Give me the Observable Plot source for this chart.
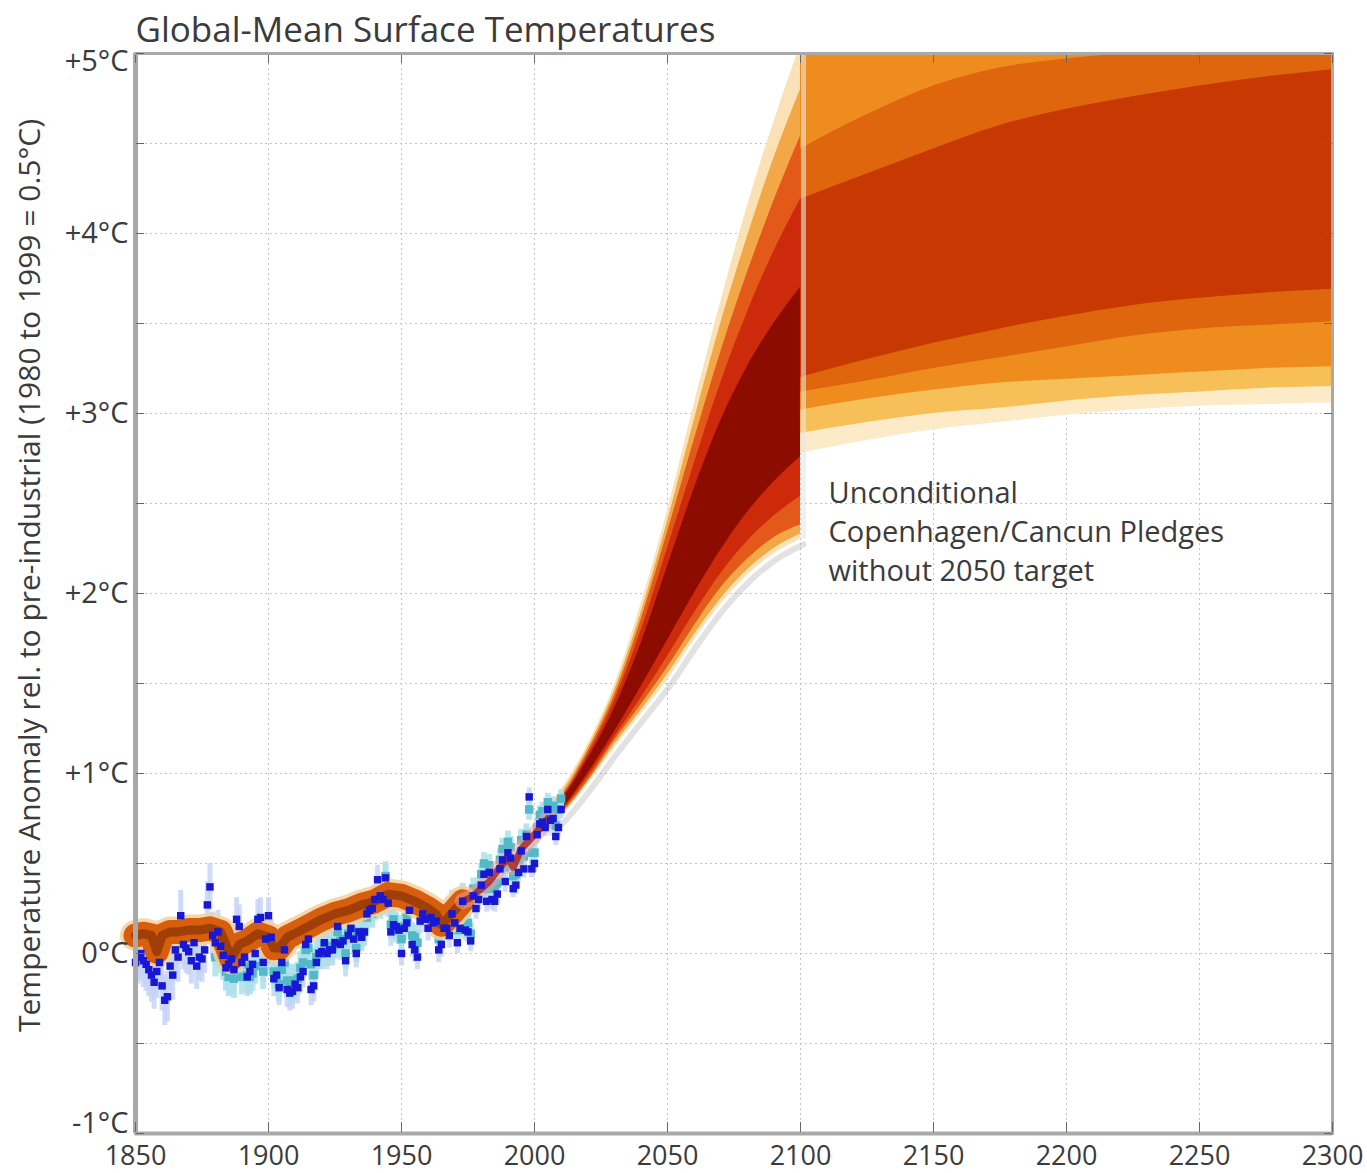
<!DOCTYPE html>
<html><head><meta charset="utf-8">
<script src="https://cdn.jsdelivr.net/npm/d3@7"></script>
<script src="https://cdn.jsdelivr.net/npm/@observablehq/plot@0.6"></script>
<style>
html,body{margin:0;padding:0;background:#fff;}
#chart{width:1367px;height:1173px;overflow:hidden;}
</style></head><body><div id="chart"></div>
<script>
// ---------- texts & ticks ----------
const title = "Global-Mean Surface Temperatures";
const yLabel = "Temperature Anomaly rel. to pre-industrial (1980 to 1999 = 0.5°C)";
const annotationLines = ["Unconditional", "Copenhagen/Cancun Pledges", "without 2050 target"];
const xDomain = [1850, 2300];
const yDomain = [-1, 5];
const xTicks = [1850, 1900, 1950, 2000, 2050, 2100, 2150, 2200, 2250, 2300];
const xGrid = [1900, 1950, 2000, 2050, 2100, 2150, 2200, 2250];
const yTicksMid = [0, 1, 2, 3, 4];
const yTickBottom = [-1];
const yTickTop = [5];
const yMinor = [-1, -0.5, 0, 0.5, 1, 1.5, 2, 2.5, 3, 3.5, 4, 4.5, 5];

// ---------- observations (annual, 1850-2010) ----------
const obsStart = 1850;
const obsBlue = [
 -0.05,-0.02,0.00,-0.04,-0.06,-0.09,-0.12,-0.16,-0.10,-0.05,
 -0.18,-0.26,-0.24,-0.07,-0.12,0.02,-0.02,0.21,0.05,0.03,
 0.01,-0.04,0.06,-0.07,-0.02,-0.03,0.02,0.27,0.37,0.10,
 0.06,0.12,0.04,-0.01,-0.08,-0.06,-0.03,-0.09,0.19,0.15,
 -0.05,-0.02,-0.13,-0.10,-0.06,0.00,0.19,0.20,-0.05,0.08,
 0.21,0.09,-0.14,-0.12,-0.19,-0.05,0.02,-0.20,-0.22,-0.21,
 -0.17,-0.19,-0.13,-0.10,0.05,0.08,-0.20,-0.18,-0.05,0.00,
 0.01,0.06,0.00,0.02,0.02,0.06,0.15,0.05,0.07,-0.04,
 0.10,0.14,0.08,0.00,0.12,0.09,0.12,0.22,0.24,0.25,
 0.30,0.41,0.32,0.30,0.42,0.28,0.12,0.16,0.15,0.13,
 0.00,0.14,0.17,0.24,0.05,0.02,-0.02,0.18,0.22,0.19,
 0.14,0.20,0.17,0.18,0.02,0.05,0.14,0.14,0.10,0.22,
 0.17,0.06,0.14,0.29,0.13,0.12,0.07,0.32,0.25,0.30,
 0.38,0.44,0.29,0.45,0.30,0.29,0.33,0.47,0.52,0.40,
 0.56,0.53,0.36,0.38,0.45,0.57,0.47,0.65,0.87,0.47,
 0.50,0.66,0.72,0.73,0.70,0.80,0.74,0.75,0.65,0.70,
 0.80];
const obsBlueErr = [0.15,0.14,0.13,0.12,0.11,0.10,0.09,0.09,0.08,0.08,0.07,0.07,0.06,0.06,0.05,0.05,0.05]; // per decade
const cyanStart = 1880;
const obsCyan = [
 -0.02,0.04,0.00,-0.04,-0.10,-0.13,-0.12,-0.14,0.00,0.06,
 -0.13,-0.06,-0.12,-0.13,-0.11,-0.07,0.03,0.04,-0.10,-0.03,
 0.04,-0.02,-0.10,-0.14,-0.17,-0.09,-0.05,-0.15,-0.16,-0.18,
 -0.15,-0.14,-0.08,-0.05,0.02,0.03,-0.06,-0.12,-0.02,0.00,
 0.00,0.05,0.02,0.04,0.03,0.06,0.12,0.07,0.08,0.00,
 0.11,0.13,0.10,0.03,0.12,0.10,0.12,0.20,0.24,0.22,
 0.26,0.33,0.27,0.29,0.43,0.31,0.16,0.19,0.14,0.13,
 0.08,0.15,0.20,0.24,0.10,0.09,0.06,0.22,0.25,0.24,
 0.20,0.23,0.23,0.22,0.08,0.12,0.17,0.19,0.15,0.28,
 0.24,0.13,0.20,0.33,0.14,0.17,0.11,0.36,0.30,0.36,
 0.44,0.50,0.36,0.49,0.37,0.36,0.39,0.52,0.58,0.48,
 0.62,0.59,0.43,0.44,0.52,0.63,0.54,0.66,0.80,0.56,
 0.56,0.70,0.77,0.79,0.73,0.84,0.80,0.82,0.71,0.80,
 0.86];
const obsCyanErr = [0.11,0.10,0.10,0.09,0.09,0.08,0.08,0.07,0.07,0.06,0.06,0.06,0.05,0.05];

// ---------- historical model simulation ----------
const histYears = [1850,1853,1856,1858,1860,1863,1866,1870,1874,1878,1882,1884,1886,1889,1892,1896,1900,1902,1904,1907,1911,1915,1920,1925,1930,1935,1940,1945,1950,1955,1960,1963,1965,1967,1970,1973,1976,1980,1983,1986,1990,1992,1995,2000,2005];
const histMid   = [0.10,0.11,0.10,0.01,0.10,0.12,0.12,0.13,0.13,0.14,0.12,0.05,-0.03,0.05,0.07,0.11,0.09,0.03,0.03,0.09,0.12,0.15,0.19,0.22,0.24,0.27,0.29,0.33,0.32,0.29,0.25,0.22,0.16,0.19,0.24,0.29,0.31,0.36,0.40,0.46,0.53,0.48,0.58,0.66,0.75];
const histSplitYear = 1973;

// ---------- projection fan 2005-2100 (percentile bands) ----------
const fanYears    = [2005,2010,2020,2030,2040,2050,2060,2070,2080,2090,2100];
const fanCreamLo  = [0.70,0.76,0.94,1.14,1.33,1.52,1.74,1.94,2.10,2.22,2.30];
const fanLightLo  = [0.71,0.77,0.95,1.16,1.35,1.55,1.77,1.97,2.13,2.25,2.33];
const fanOrangeLo = [0.72,0.78,0.96,1.18,1.38,1.59,1.82,2.03,2.19,2.31,2.38];
const fanRedLo    = [0.73,0.79,0.98,1.20,1.42,1.65,1.89,2.11,2.29,2.43,2.54];
const fanDarkLo   = [0.74,0.80,1.00,1.23,1.48,1.74,2.00,2.24,2.45,2.62,2.76];
const fanDarkHi   = [0.77,0.85,1.08,1.36,1.72,2.15,2.58,2.96,3.26,3.50,3.70];
const fanRedHi    = [0.78,0.86,1.10,1.40,1.79,2.25,2.72,3.17,3.56,3.90,4.19];
const fanOrangeHi = [0.79,0.87,1.12,1.43,1.85,2.34,2.85,3.34,3.78,4.18,4.54];
const fanLightHi  = [0.80,0.89,1.14,1.46,1.89,2.40,2.96,3.50,3.98,4.42,4.80];
const fanCreamHi  = [0.81,0.91,1.16,1.49,1.94,2.46,3.05,3.62,4.15,4.62,5.05];

// ---------- post-2100 bands ----------
const postYears        = [2100,2125,2150,2175,2200,2225,2250,2275,2300];
const postCreamLo      = [2.78,2.85,2.91,2.95,2.99,3.02,3.04,3.05,3.06];
const postLightLo      = [2.89,2.95,3.00,3.03,3.07,3.10,3.12,3.14,3.15];
const postOrangeLo     = [3.02,3.08,3.13,3.17,3.19,3.21,3.23,3.25,3.26];
const postDarkOrangeLo = [3.12,3.18,3.25,3.31,3.37,3.43,3.47,3.49,3.51];
const postRedLo        = [3.20,3.30,3.39,3.47,3.54,3.60,3.64,3.67,3.69];
const postRedHi        = [4.19,4.33,4.47,4.60,4.69,4.76,4.82,4.87,4.91];
const postDarkOrangeHi = [4.47,4.66,4.82,4.92,4.97,5.00,5.02,5.03,5.04];
const postOrangeHi     = [5.30,5.30,5.30,5.30,5.30,5.30,5.30,5.30,5.30];
const postLightHi      = [5.40,5.40,5.40,5.40,5.40,5.40,5.40,5.40,5.40];
const postCreamHi      = [5.50,5.50,5.50,5.50,5.50,5.50,5.50,5.50,5.50];

// ---------- build tables ----------
const band = (years, lo, hi) => years.map((year, i) => ({year, lo: lo[i], hi: hi[i]}));
const blueRows = obsBlue.map((v, i) => {
  const year = obsStart + i, e = obsBlueErr[Math.floor(i / 10)];
  return {year, v, lo: v - e, hi: v + e};
});
const cyanRows = obsCyan.map((v, i) => {
  const year = cyanStart + i, e = obsCyanErr[Math.floor(i / 10)];
  return {year, v, lo: v - e, hi: v + e};
});
const histRows = histYears.map((year, i) => ({year, v: histMid[i]}));
const histEarly = histRows.filter(d => d.year <= histSplitYear);
const histLate = histRows.filter(d => d.year >= histSplitYear);

const fanBands = [
  {rows: band(fanYears, fanCreamLo, fanCreamHi), fill: "#fbe2b6"},
  {rows: band(fanYears, fanLightLo, fanLightHi), fill: "#f2a846"},
  {rows: band(fanYears, fanOrangeLo, fanOrangeHi), fill: "#e2591a"},
  {rows: band(fanYears, fanRedLo, fanRedHi), fill: "#cc2a0a"},
  {rows: band(fanYears, fanDarkLo, fanDarkHi), fill: "#8c0c02"}
];
const postBands = [
  {rows: band(postYears, postCreamLo, postCreamHi), fill: "#fdebc8"},
  {rows: band(postYears, postLightLo, postLightHi), fill: "#f6bf58"},
  {rows: band(postYears, postOrangeLo, postOrangeHi), fill: "#ee8d1e"},
  {rows: band(postYears, postDarkOrangeLo, postDarkOrangeHi), fill: "#df660c"},
  {rows: band(postYears, postRedLo, postRedHi), fill: "#c83802"}
];
const fanLowerEdge = band(fanYears, fanCreamLo, fanCreamHi);
const cutRow = [{year: fanYears[fanYears.length - 1], lo: fanCreamLo[fanCreamLo.length - 1], hi: yDomain[1]}];
const annotationRows = annotationLines.map((text, i) => ({text, line: i}));

const font = "'Open Sans', 'DejaVu Sans', sans-serif";
const ink = "#3b3b3b";
const frameGray = "#a9a9a9";
const fmtY = d => (d > 0 ? "+" : "") + d + "°C";
const annFont = 29, annStep = 39;

const chart = Plot.plot({
  width: 1367, height: 1173,
  marginLeft: 135, marginRight: 35, marginTop: 53, marginBottom: 40,
  x: {domain: xDomain},
  y: {domain: yDomain},
  style: {fontFamily: font, background: "#fff", color: ink},
  marks: [
    Plot.gridY(yMinor, {stroke: "#c4c4c4", strokeOpacity: 1, strokeDasharray: "2,3"}),
    Plot.gridX(xGrid, {stroke: "#c4c4c4", strokeOpacity: 1, strokeDasharray: "2,3"}),

    // post-2100 bands
    ...postBands.map(b => Plot.areaY(b.rows, {x: "year", y1: "lo", y2: "hi", fill: b.fill, curve: "monotone-x", clip: true})),

    // fan shadow + fan bands
    Plot.line(fanLowerEdge, {x: "year", y: "lo", stroke: "#8c8c8c", strokeWidth: 6, strokeOpacity: 0.25, dx: 3, dy: 5, curve: "monotone-x"}),
    ...fanBands.map(b => Plot.areaY(b.rows, {x: "year", y1: "lo", y2: "hi", fill: b.fill, curve: "monotone-x", clip: true})),
    Plot.ruleX(cutRow, {x: "year", y1: "lo", y2: "hi", stroke: "#e6e6e6", strokeWidth: 5, strokeOpacity: 0.6, dx: 3, clip: true}),

    // observation uncertainty
    Plot.ruleX(blueRows, {x: "year", y1: "lo", y2: "hi", stroke: "#c3d2f6", strokeWidth: 5, strokeOpacity: 0.8}),
    Plot.ruleX(cyanRows, {x: "year", y1: "lo", y2: "hi", stroke: "#ade0ea", strokeWidth: 6, strokeOpacity: 0.85}),
    Plot.dot(cyanRows, {x: "year", y: "v", symbol: "square", r: 4.8, fill: "#52b9c9"}),

    // historical simulation band
    Plot.line(histEarly, {x: "year", y: "v", stroke: "#f4cf9c", strokeWidth: 31, strokeLinejoin: "round", strokeOpacity: 0.85}),
    Plot.line(histEarly, {x: "year", y: "v", stroke: "#d65e0c", strokeWidth: 24, strokeLinejoin: "round"}),
    Plot.line(histEarly, {x: "year", y: "v", stroke: "#7a2a04", strokeWidth: 9, strokeLinejoin: "round", strokeOpacity: 0.6}),
    Plot.line(histLate, {x: "year", y: "v", stroke: "#e9a3a0", strokeWidth: 16, strokeLinejoin: "round", strokeOpacity: 0.55}),
    Plot.line(histLate, {x: "year", y: "v", stroke: "#a8201c", strokeWidth: 7, strokeLinejoin: "round", strokeOpacity: 0.8}),

    Plot.dot(blueRows, {x: "year", y: "v", symbol: "square", r: 4.2, fill: "#1818d4"}),

    // frame and axes
    Plot.frame({stroke: frameGray, strokeWidth: 3}),
    Plot.ruleX([xDomain[0]], {stroke: frameGray, strokeWidth: 5}),
    Plot.ruleY([yDomain[0]], {stroke: frameGray, strokeWidth: 4}),
    Plot.axisY(yMinor, {anchor: "left", tickSize: 8, dx: 9, stroke: "#666", tickFormat: () => "", label: null}),
    Plot.axisY(yMinor, {anchor: "right", tickSize: 8, dx: -9, stroke: "#666", tickFormat: () => "", label: null}),
    Plot.axisX(xTicks, {anchor: "bottom", tickSize: 10, dy: -11, stroke: "#666", tickFormat: () => "", label: null}),
    Plot.axisX(xTicks, {anchor: "top", tickSize: 8, dy: 9, stroke: "#666", tickFormat: () => "", label: null}),
    Plot.axisY(yTicksMid, {anchor: "left", tickSize: 0, tickPadding: 7, fontSize: 29, fill: ink, tickFormat: fmtY, label: null}),
    Plot.axisY(yTickTop, {anchor: "left", tickSize: 0, tickPadding: 7, dy: 8, fontSize: 29, fill: ink, tickFormat: fmtY, label: null}),
    Plot.axisY(yTickBottom, {anchor: "left", tickSize: 0, tickPadding: 7, dy: -10, fontSize: 29, fill: ink, tickFormat: fmtY, label: null}),
    Plot.axisX(xTicks, {anchor: "bottom", tickSize: 0, tickPadding: 12, fontSize: 27, fill: ink,
      tickFormat: d => String(d), label: null}),

    // texts
    Plot.text([title], {frameAnchor: "top-left", dy: -12, lineAnchor: "bottom", textAnchor: "start", fontSize: 35, fill: ink}),
    Plot.text([yLabel], {frameAnchor: "left", dx: -105, dy: -18, rotate: -90, textAnchor: "middle", lineAnchor: "middle", fontSize: 30, fill: ink}),
    ...annotationRows.map(r => Plot.text([r.text], {
      x: () => fanYears[fanYears.length - 1], y: () => postCreamLo[0],
      dx: 28, dy: 50 + r.line * annStep, textAnchor: "start", lineAnchor: "bottom",
      fontSize: annFont, fill: ink}))
  ]
});
document.getElementById("chart").appendChild(chart);
</script>
</body></html>
